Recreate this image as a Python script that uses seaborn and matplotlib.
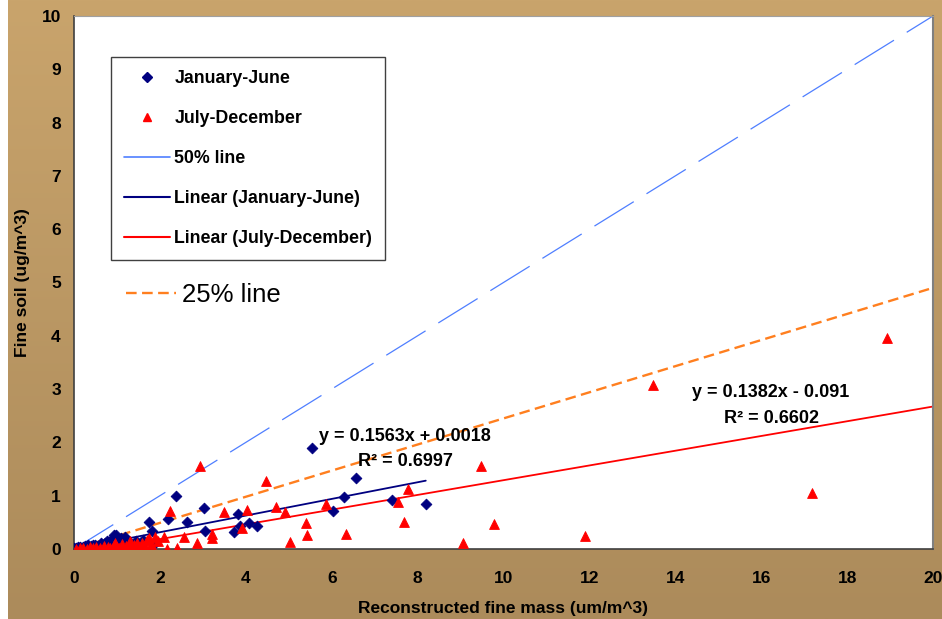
import numpy as np
import pandas as pd
import seaborn as sns
import matplotlib.pyplot as plt
from matplotlib.lines import Line2D

sns.set_style('white')
plt.rcParams['font.family'] = ['Liberation Sans', 'DejaVu Sans']
plt.rcParams['text.color'] = 'black'
plt.rcParams['axes.labelcolor'] = 'black'

# January-June samples (reconstructed fine mass, fine soil)
jan_x = [0.0, 0.05, 0.1, 0.14, 0.2, 0.25, 0.3, 0.33, 0.4, 0.45, 0.49, 0.55, 0.62, 0.64,
         0.68, 0.72, 0.76, 0.78, 0.85, 0.9, 0.94, 0.98, 1.0, 1.03, 1.1, 1.15, 1.19, 1.23,
         1.25, 1.3, 1.45, 1.6, 1.75, 1.82, 1.89, 2.2, 2.37, 2.63, 3.03, 3.05, 3.73, 3.83,
         3.87, 4.08, 4.27, 5.53, 6.02, 6.29, 6.57, 7.40, 8.19]
jan_y = [0.01, 0.02, 0.03, 0.04, 0.03, 0.05, 0.06, 0.07, 0.05, 0.08, 0.08, 0.06, 0.09, 0.12,
         0.08, 0.12, 0.15, 0.13, 0.15, 0.2, 0.26, 0.26, 0.18, 0.14, 0.2, 0.16, 0.23, 0.17,
         0.1, 0.12, 0.15, 0.17, 0.51, 0.34, 0.12, 0.57, 1.0, 0.5, 0.77, 0.33, 0.31, 0.66,
         0.43, 0.48, 0.44, 1.90, 0.71, 0.98, 1.34, 0.91, 0.84]

# July-December samples
jul_x = [0.05, 0.15, 0.22, 0.3, 0.38, 0.45, 0.52, 0.6, 0.7, 0.78, 0.84, 0.92, 0.95, 0.99,
         1.05, 1.12, 1.2, 1.26, 1.3, 1.33, 1.4, 1.45, 1.46, 1.52, 1.58, 1.65, 1.69, 1.75,
         1.8, 1.89, 1.95, 2.10, 2.17, 2.24, 2.39, 2.56, 2.86, 2.94, 3.21, 3.21, 3.50, 3.91,
         4.02, 4.47, 4.70, 4.91, 5.04, 5.39, 5.43, 5.86, 6.33, 7.55, 7.69, 7.78, 9.06, 9.48,
         9.79, 11.90, 13.48, 17.18, 18.93]
jul_y = [0.0, 0.01, 0.02, 0.0, 0.03, 0.01, 0.04, 0.02, 0.05, 0.03, 0.01, 0.07, 0.12, 0.04,
         0.02, 0.09, 0.05, 0.06, 0.15, 0.03, 0.08, 0.01, 0.11, 0.04, 0.12, 0.06, 0.16, 0.2,
         0.1, 0.22, 0.15, 0.22, 0.0, 0.71, 0.01, 0.23, 0.12, 1.55, 0.28, 0.21, 0.69, 0.40,
         0.73, 1.28, 0.78, 0.69, 0.14, 0.48, 0.26, 0.84, 0.29, 0.88, 0.50, 1.12, 0.11, 1.56,
         0.47, 0.24, 3.08, 1.06, 3.96]

# trendline coefficients (slope, intercept) and reference lines
jan_fit = (0.1563, 0.0018)
jul_fit = (0.1382, -0.091)
line_50 = 0.5
line_25 = 0.245
eq_jan = ['y = 0.1563x + 0.0018', 'R² = 0.6997']
eq_jul = ['y = 0.1382x - 0.091', 'R² = 0.6602']

df = pd.DataFrame({
    'mass': jan_x + jul_x,
    'soil': jan_y + jul_y,
    'period': ['January-June'] * len(jan_x) + ['July-December'] * len(jul_x),
})

fig = plt.figure(figsize=(9.42, 6.19), dpi=100)
fig.patch.set_facecolor('white')

# tan gradient background
bg = fig.add_axes([8 / 942, 0, 1 - 8 / 942, 1], zorder=-10)
top_c = np.array([201, 164, 108]) / 255
bot_c = np.array([172, 139, 91]) / 255
t = np.linspace(0, 1, 256)[:, None]
grad = (top_c[None, :] * (1 - t) + bot_c[None, :] * t)[:, None, :]
bg.imshow(grad, aspect='auto', extent=[0, 1, 0, 1])
bg.axis('off')

ax = fig.add_axes([74 / 942, 70 / 619, 859 / 942, 533 / 619])
ax.set_facecolor('white')

xs = np.array([0, 20])
ax.plot(xs, line_50 * xs, color='#4F7FFF', lw=0.9, dashes=(37, 12), zorder=2)
ax.plot(xs, line_25 * xs, color='#FF7F1F', lw=1.7, dashes=(4.5, 2.3), zorder=2)
xj = np.array([0, max(jan_x)])
ax.plot(xj, jan_fit[0] * xj + jan_fit[1], color='#000080', lw=1.3, zorder=2)
ax.plot(xs, jul_fit[0] * xs + jul_fit[1], color='#FF0000', lw=1.3, zorder=2)

sns.scatterplot(data=df[df.period == 'January-June'], x='mass', y='soil', marker='D',
                color='#000080', edgecolor='#000080', linewidth=0.6, s=30, ax=ax,
                legend=False, zorder=3)
sns.scatterplot(data=df[df.period == 'July-December'], x='mass', y='soil', marker='^',
                color='#FF0000', edgecolor='#FF0000', linewidth=0.6, s=50, ax=ax,
                legend=False, zorder=3)

ax.set_xlim(0, 20)
ax.set_ylim(0, 10)
ax.set_xticks(range(0, 21, 2))
ax.set_yticks(range(0, 11))
ax.tick_params(direction='out', length=4.5, width=1, color='#404040',
               labelsize=12.5, labelcolor='black')
ax.tick_params(axis='y', pad=5)
ax.tick_params(axis='x', pad=11)
for lab in ax.get_xticklabels() + ax.get_yticklabels():
    lab.set_fontweight('bold')
for side in ['left', 'bottom']:
    ax.spines[side].set_color('#404040')
    ax.spines[side].set_linewidth(1.2)
ax.spines['right'].set_color('#808080')
ax.spines['right'].set_linewidth(1.5)
ax.spines['top'].set_color('#A0A0A0')
ax.spines['top'].set_linewidth(0.8)

ax.set_xlabel('Reconstructed fine mass (um/m^3)', fontsize=12.5, fontweight='bold', labelpad=11)
ax.set_ylabel('Fine soil (ug/m^3)', fontsize=12.5, fontweight='bold', labelpad=8)

ax.text(7.71, 2.12, eq_jan[0], ha='center', va='center', fontsize=13, fontweight='bold', zorder=4)
ax.text(7.72, 1.64, eq_jan[1], ha='center', va='center', fontsize=13, fontweight='bold', zorder=4)
ax.text(16.21, 2.94, eq_jul[0], ha='center', va='center', fontsize=13, fontweight='bold', zorder=4)
ax.text(16.25, 2.45, eq_jul[1], ha='center', va='center', fontsize=13, fontweight='bold', zorder=4)

handles = [
    Line2D([], [], ls='none', marker='D', ms=5, color='#000080'),
    Line2D([], [], ls='none', marker='^', ms=5.5, color='#FF0000'),
    Line2D([], [], color='#4F7FFF', lw=1.2),
    Line2D([], [], color='#000080', lw=1.5),
    Line2D([], [], color='#FF0000', lw=1.5),
]
labels = ['January-June', 'July-December', '50% line',
          'Linear (January-June)', 'Linear (July-December)']
leg = ax.legend(handles, labels, loc='upper left', bbox_to_anchor=(0.043, 0.923),
                borderaxespad=0, frameon=True, fancybox=False, edgecolor='#404040',
                framealpha=1, prop={'weight': 'bold', 'size': 12.8},
                handlelength=2.6, handletextpad=0.25, labelspacing=1.3, borderpad=0.72)
leg.get_frame().set_linewidth(1.0)
ax.add_artist(leg)

ax.legend([Line2D([], [], color='#FF7F1F', lw=1.7, dashes=(4.5, 2.3))], ['25% line'],
          loc='center left', bbox_to_anchor=(0.0605, 0.4765), borderaxespad=0,
          borderpad=0, frameon=False, fontsize=18.5, handlelength=1.95, handletextpad=0.25)

fig.savefig('out.png', dpi=100, facecolor=fig.get_facecolor())
